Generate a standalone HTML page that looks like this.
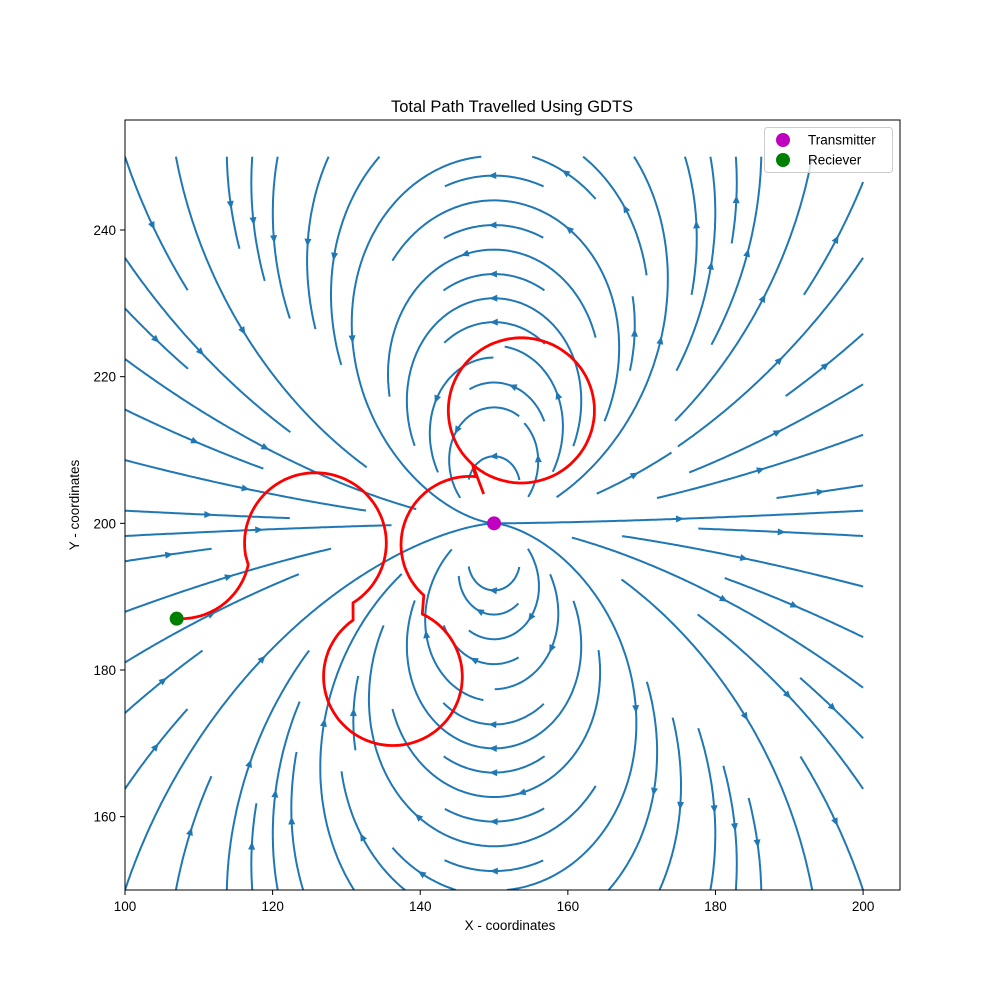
<!DOCTYPE html>
<html><head><meta charset="utf-8"><style>
html,body{margin:0;padding:0;background:#fff;}
svg text{font-family:"Liberation Sans","DejaVu Sans",sans-serif;}
</style></head><body>
<svg id="chart" width="1000" height="1000" viewBox="0 0 1000 1000" xmlns="http://www.w3.org/2000/svg">
<rect width="1000" height="1000" fill="#fff"/>
<defs><clipPath id="axclip"><rect x="125" y="120" width="775" height="770"/></clipPath></defs>
<text x="512" y="112" font-size="16.5" text-anchor="middle">Total Path Travelled Using GDTS</text>
<text x="510" y="930" font-size="13.5" text-anchor="middle">X - coordinates</text>
<text transform="translate(79,505) rotate(-90)" font-size="13.5" text-anchor="middle">Y - coordinates</text>
<g id="streams" clip-path="url(#axclip)"></g>
<g id="path" clip-path="url(#axclip)"></g>
<g id="points"></g>
<g id="ticks"></g>
<rect x="125" y="120" width="775" height="770" fill="none" stroke="#000" stroke-width="1"/>
<g>
<rect x="764.5" y="127.5" width="128" height="45" rx="3" fill="#fff" fill-opacity="0.8" stroke="#ccc" stroke-width="1"/>
<circle cx="783" cy="140" r="7" fill="#bf00bf"/>
<text x="808" y="144.5" font-size="13.5">Transmitter</text>
<circle cx="783" cy="160" r="7" fill="#008000"/>
<text x="808" y="164.5" font-size="13.5">Reciever</text>
</g>
</svg>
<script>
const xTicks=[100,120,140,160,180,200];
const yTicks=[160,180,200,220,240];
const dipole=[150,200];
const dipoleMoment=[1,0];
const transmitter=[150,200];
const receiver=[107,187];
const arcCx=[107.6,125.8,136.3,146.7,153.7];
const arcCy=[196.3,197.3,179.1,197.1,215.4];
const arcR=[9.3,9.6,9.4,9.3,9.9];
const arcStart=[-93,190,125,228,228];
const arcEnd=[-12,-58,425,85,-132];
const pathEnd=[148.6,204.0];

const NS="http://www.w3.org/2000/svg";
const X0=125,X1=900,Y0=890,Y1=120,xmin=100,xmax=205,ymin=150,ymax=255;
function sx(v){return X0+(v-xmin)/(xmax-xmin)*(X1-X0);}
function sy(v){return Y0-(v-ymin)/(ymax-ymin)*(Y0-Y1);}
function mk(tag,attrs,parent){const e=document.createElementNS(NS,tag);for(const k in attrs)e.setAttribute(k,attrs[k]);parent.appendChild(e);return e;}

const tg=document.getElementById('ticks');
xTicks.forEach(t=>{
  const l=mk('line',{x1:sx(t),x2:sx(t),y1:890,y2:895,stroke:'#000','stroke-width':1},tg);
  
  
  const tx=mk('text',{x:sx(t),y:911,'font-size':13.5,'text-anchor':'middle'},tg);
  tx.textContent=t;
  
  
});
yTicks.forEach(t=>{
  const l=mk('line',{x1:120,x2:125,y1:sy(t),y2:sy(t),stroke:'#000','stroke-width':1},tg);
  
  
  const tx=mk('text',{x:116,y:sy(t)+5,'font-size':13.5,'text-anchor':'end'},tg);
  tx.textContent=t;
  
  
});

const N=30, dxmin=100, dxmax=200, dymin=150, dymax=250;
const cell=(dxmax-dxmin)/(N-1);
function dir(mx,my){
  const x=dxmin+mx*cell,y=dymin+my*cell;
  const rx=x-dipole[0],ry=y-dipole[1];const r2=rx*rx+ry*ry;
  const pr=dipoleMoment[0]*rx+dipoleMoment[1]*ry;
  let bx=3*pr*rx/r2-dipoleMoment[0],by=3*pr*ry/r2-dipoleMoment[1];
  const m=Math.hypot(bx,by)||1;return [bx/m,by/m];
}
const mask=[];for(let i=0;i<N;i++){mask.push(new Array(N).fill(0));}
const h=0.08;
function integ(x0,y0,sign,state){
  const pts=[];let x=x0,y=y0,len=0;
  while(true){
    const k1=dir(x,y);const xm=x+sign*h/2*k1[0],ym=y+sign*h/2*k1[1];
    const k2=dir(xm,ym);const xn=x+sign*h*k2[0],yn=y+sign*h*k2[1];
    if(xn<0||xn>N-1||yn<0||yn>N-1)break;
    const cx=Math.round(xn),cy=Math.round(yn);
    if(cx!==state.cx||cy!==state.cy){
      if(mask[cy][cx]!==0)break;
      mask[cy][cx]=1;state.cells.push([cx,cy]);state.cx=cx;state.cy=cy;
    }
    x=xn;y=yn;pts.push([x,y]);len+=h;
    const ddx=(dxmin+x*cell-dipole[0]),ddy=(dymin+y*cell-dipole[1]);
    if(Math.hypot(ddx,ddy)<0.4)break;
    if(len>4*(N-1))break;
  }
  return {pts,len};
}
const trajs=[];
(function(){
  let x=0,y=0,xf=0,yf=1,xl=N-1,yl=N-1,d='right';
  for(let i=0;i<N*N;i++){
    if(mask[y][x]===0){
      const st={cx:x,cy:y,cells:[[x,y]]};mask[y][x]=1;
      const b=integ(x,y,-1,st);
      st.cx=x;st.cy=y;
      const f=integ(x,y,1,st);
      const total=(b.len+f.len)/(N-1);
      if(total<0.1){st.cells.forEach(c=>{mask[c[1]][c[0]]=0;});}
      else{trajs.push(b.pts.reverse().concat([[x,y]],f.pts));}
    }
    if(d==='right'){x++;if(x>=xl){xl--;d='up';}}
    else if(d==='up'){y++;if(y>=yl){yl--;d='left';}}
    else if(d==='left'){x--;if(x<=xf){xf++;d='down';}}
    else{y--;if(y<=yf){yf++;d='right';}}
  }
})();
const sg=document.getElementById('streams');
trajs.forEach(t=>{
  const p=t.map(q=>[sx(dxmin+q[0]*cell),sy(dymin+q[1]*cell)]);
  const pl=mk('polyline',{points:p.map(q=>q[0].toFixed(1)+','+q[1].toFixed(1)).join(' '),fill:'none',stroke:'#1f77b4','stroke-width':2,'stroke-linejoin':'round'},sg);
  
  
  let s=[0];for(let i=1;i<p.length;i++)s.push(s[i-1]+Math.hypot(p[i][0]-p[i-1][0],p[i][1]-p[i-1][1]));
  const half=s[s.length-1]/2;let n=0;while(n<s.length-2&&s[n]<half)n++;
  const a=p[n],b=p[Math.min(n+1,p.length-1)];
  let ux=b[0]-a[0],uy=b[1]-a[1];const m=Math.hypot(ux,uy)||1;ux/=m;uy/=m;
  const tipx=a[0]+ux*4,tipy=a[1]+uy*4,bx=a[0]-ux*4,by=a[1]-uy*4;
  const tri=mk('polygon',{points:`${tipx},${tipy} ${bx-uy*3.5},${by+ux*3.5} ${bx+uy*3.5},${by-ux*3.5}`,fill:'#1f77b4'},sg);
  
  
});

const pts=[[sx(receiver[0]),sy(receiver[1])]];
for(let k=0;k<arcCx.length;k++){
  const steps=90;
  for(let i=0;i<=steps;i++){
    const a=(arcStart[k]+(arcEnd[k]-arcStart[k])*i/steps)*Math.PI/180;
    pts.push([sx(arcCx[k]+arcR[k]*Math.cos(a)),sy(arcCy[k]+arcR[k]*Math.sin(a))]);
  }
}
pts.push([sx(pathEnd[0]),sy(pathEnd[1])]);
const rp=mk('polyline',{points:pts.map(q=>q[0].toFixed(1)+','+q[1].toFixed(1)).join(' '),fill:'none',stroke:'#ff0000','stroke-width':2.8,'stroke-linejoin':'round'},document.getElementById('path'));



const pg=document.getElementById('points');
const c1=mk('circle',{cx:sx(transmitter[0]),cy:sy(transmitter[1]),r:7,fill:'#bf00bf'},pg);


const c2=mk('circle',{cx:sx(receiver[0]),cy:sy(receiver[1]),r:7,fill:'#008000'},pg);


</script>
</body></html>
